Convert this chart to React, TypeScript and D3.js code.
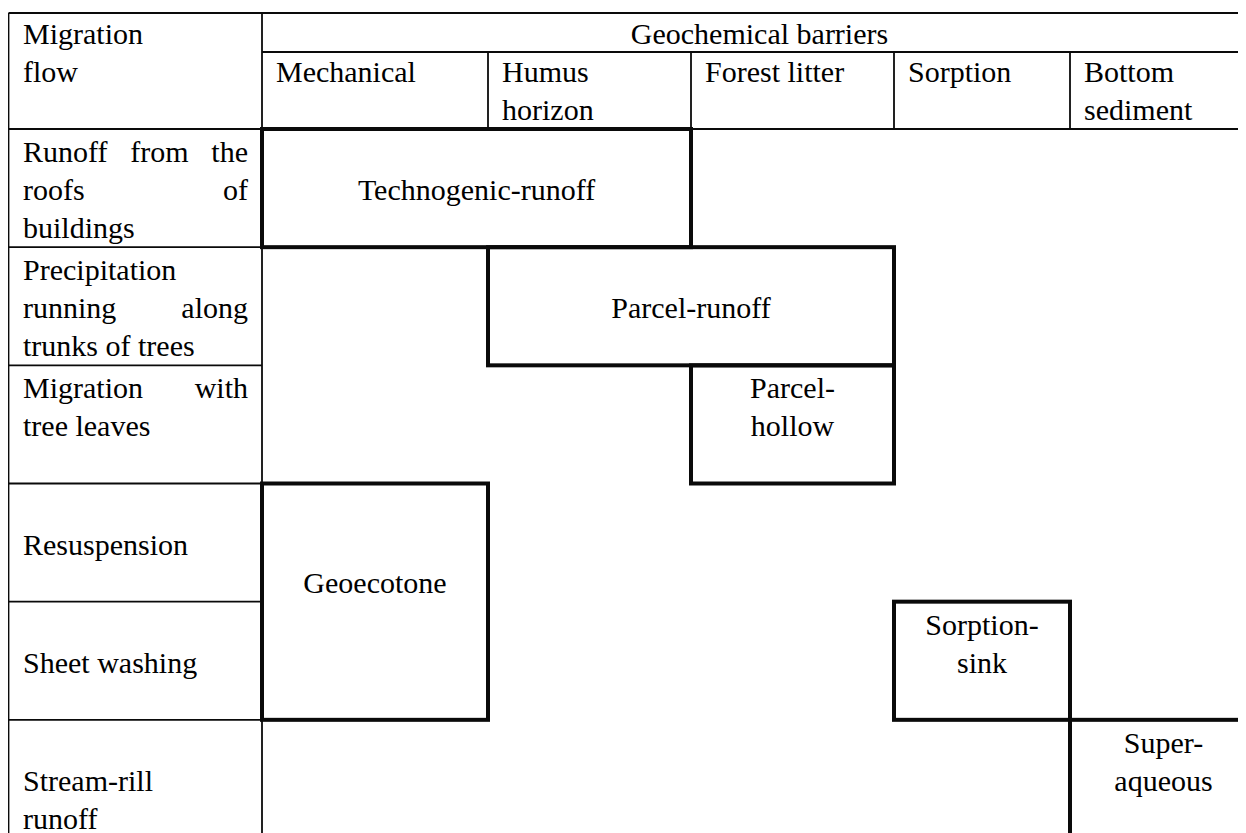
import React from 'react';
import * as d3 from 'd3';

// header texts
const flowTitle = ['Migration', 'flow'];
const barrierTitle = 'Geochemical barriers';
const barriers = [
  ['Mechanical'],
  ['Humus', 'horizon'],
  ['Forest litter'],
  ['Sorption'],
  ['Bottom', 'sediment'],
];

// migration flows, one entry per table row ('' = empty paragraph in the cell)
const flows = [
  ['Runoff from the', 'roofs of', 'buildings'],
  ['Precipitation', 'running along', 'trunks of trees'],
  ['Migration with', 'tree leaves'],
  ['', 'Resuspension'],
  ['', 'Sheet washing'],
  ['', 'Stream-rill', 'runoff'],
];
const justifiedLines = ['Runoff from the', 'roofs of', 'running along', 'Migration with'];

// barrier types: text, barrier columns [from, to], flow rows [from, to]
const barrierTypes = [
  { text: ['', 'Technogenic-runoff'], cols: [0, 1], rows: [0, 0] },
  { text: ['', 'Parcel-runoff'], cols: [1, 2], rows: [1, 1] },
  { text: ['Parcel-', 'hollow'], cols: [2, 2], rows: [2, 2] },
  { text: ['', '', 'Geoecotone'], cols: [0, 0], rows: [3, 4] },
  { text: ['Sorption-', 'sink'], cols: [3, 3], rows: [4, 4] },
  { text: ['Super-', 'aqueous'], cols: [4, 4], rows: [5, 5] },
];

const M = 8; // body margin: the svg sits at (8, 8)
const W = 1246 - M;
const H = 833 - M;
const FONT_SIZE = 30;
const LINE_H = 38;

const left = 8.5 - M;
const top = 13 - M;
const headMid = 52 - M;
const firstCol = 262 - M;

// column edges of the barrier columns, row edges of the flow rows
const x = d3.scaleLinear().domain([0, 1, 2, 3, 4, 5]).range([262, 488, 691, 894, 1070, 1257].map(v => v - M));
const y = d3.scaleLinear().domain([0, flows.length]).range([129 - M, 838 - M]);
const right = x(barriers.length);
const bottom = y(flows.length);

const ctx = document.createElement('canvas').getContext('2d');
const measure = (s: string) => {
  ctx.font = `${FONT_SIZE}px 'Liberation Serif'`;
  return ctx.measureText(s).width;
};

type Item = { s: string; x: number; y: number };
const items: Item[] = [];
const put = (s: string, tx: number, ty: number, anchor = 'start') => {
  const w = measure(s);
  items.push({ s, x: anchor === 'middle' ? tx - w / 2 : anchor === 'end' ? tx - w : tx, y: ty });
};
const putJustified = (s: string, x0: number, x1: number, ty: number) => {
  const words = s.split(' ');
  const widths = words.map(measure);
  const gap = (x1 - x0 - d3.sum(widths)) / (words.length - 1);
  let cx = x0;
  words.forEach((w, i) => {
    put(w, cx, ty);
    cx += widths[i] + gap;
  });
};

flowTitle.forEach((s, k) => put(s, left + 14.5, top + 31 + k * LINE_H));
put(barrierTitle, (firstCol + right) / 2, top + 31, 'middle');
barriers.forEach((ls, i) => ls.forEach((s, k) => put(s, x(i) + 14, headMid + 30 + k * LINE_H)));
flows.forEach((ls, i) =>
  ls.forEach((s, k) => {
    if (!s) return;
    const ty = y(i) + 33 + k * LINE_H;
    if (justifiedLines.includes(s)) putJustified(s, left + 14.5, firstCol - 14, ty);
    else put(s, left + 14.5, ty);
  })
);
barrierTypes.forEach(d => {
  const cx = (x(d.cols[0]) + x(d.cols[1] + 1)) / 2;
  d.text.forEach((s, k) => {
    if (s) put(s, cx, y(d.rows[0]) + 33 + k * LINE_H, 'middle');
  });
});

const gridLines: number[][] = [
  [left, top, right, top],
  [left, top, left, bottom],
  [right, top, right, bottom],
  [left, bottom, right, bottom],
  [firstCol, top, firstCol, bottom],
  [firstCol, headMid, right, headMid],
  [left, y(0), right, y(0)],
  ...d3.range(1, barriers.length).map(i => [x(i), headMid, x(i), y(0)]),
  ...d3.range(1, flows.length).map(i => [left, y(i), firstCol, y(i)]),
];

const App = () => (
  <svg width={W} height={H}>
    {gridLines.map((l, i) => (
      <line key={'l' + i} x1={l[0]} y1={l[1]} x2={l[2]} y2={l[3]} stroke="#0a0a0a" strokeWidth={1.8} />
    ))}
    {barrierTypes.map((d, i) => (
      <rect
        key={'b' + i}
        x={x(d.cols[0])}
        y={y(d.rows[0])}
        width={x(d.cols[1] + 1) - x(d.cols[0])}
        height={y(d.rows[1] + 1) - y(d.rows[0])}
        fill="none"
        stroke="#0a0a0a"
        strokeWidth={4}
      />
    ))}
    {items.map((t, i) => (
      <text key={'t' + i} x={t.x} y={t.y} style={{ fontFamily: "'Liberation Serif'", fontSize: FONT_SIZE }}>
        {t.s}
      </text>
    ))}
  </svg>
);

export default App;
